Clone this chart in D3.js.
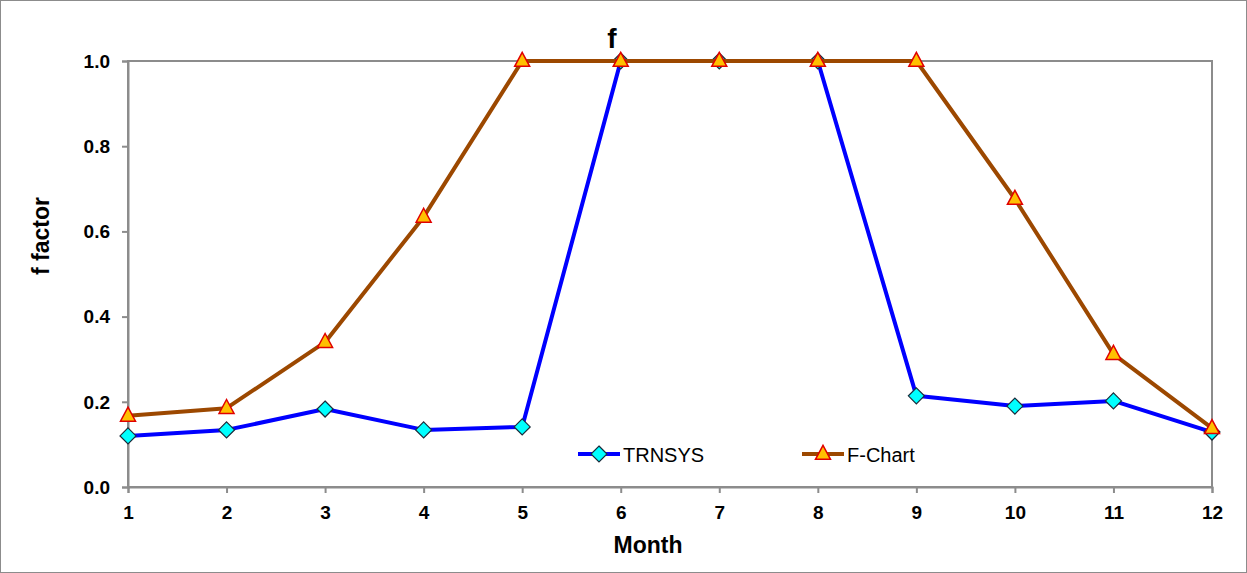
<!DOCTYPE html>
<html>
<head>
<meta charset="utf-8">
<script src="https://cdn.jsdelivr.net/npm/d3@7"></script>
<style>
  html, body { margin: 0; padding: 0; background: #fff; }
  svg { display: block; font-family: "Liberation Sans", Arial, sans-serif; }
</style>
</head>
<body>
<svg id="chart" width="1247" height="573"></svg>
<script>
// Monthly solar fraction f, TRNSYS simulation vs. F-Chart method
const months = [1, 2, 3, 4, 5, 6, 7, 8, 9, 10, 11, 12];
const trnsys = [0.120, 0.134, 0.183, 0.134, 0.141, 1.0, 1.0, 1.0, 0.214, 0.190, 0.202, 0.129];
const fchart = [0.167, 0.185, 0.340, 0.634, 1.0, 1.0, 1.0, 1.0, 1.0, 0.676, 0.312, 0.138];
const yTicks = [0.0, 0.2, 0.4, 0.6, 0.8, 1.0];

const svg = d3.select("#chart");
const W = 1247, H = 573;
const plot = { left: 128, right: 1212, top: 61, bottom: 487 };

const x = d3.scaleLinear().domain([1, 12]).range([plot.left, plot.right]);
const y = d3.scaleLinear().domain([0, 1]).range([plot.bottom, plot.top]);

// outer frame
svg.append("rect")
  .attr("x", 0.5).attr("y", 0.5).attr("width", W - 1).attr("height", H - 1)
  .attr("fill", "#fff").attr("stroke", "#8c8c8c").attr("stroke-width", 1);

// plot area frame
svg.append("rect")
  .attr("x", plot.left).attr("y", plot.top)
  .attr("width", plot.right - plot.left).attr("height", plot.bottom - plot.top)
  .attr("fill", "none").attr("stroke", "#8c8c8c").attr("stroke-width", 2);

// axes
const xAxis = d3.axisBottom(x).tickValues(months).tickSize(6).tickPadding(12).tickFormat(d3.format("d"));
const yAxis = d3.axisLeft(y).tickValues(yTicks).tickSize(6).tickPadding(12).tickFormat(d3.format(".1f"));

const gx = svg.append("g").attr("transform", `translate(0,${plot.bottom})`).call(xAxis);
const gy = svg.append("g").attr("transform", `translate(${plot.left},0)`).call(yAxis);

[gx, gy].forEach(g => {
  g.select(".domain").attr("stroke", "#8c8c8c").attr("stroke-width", 2);
  g.selectAll(".tick line").attr("stroke", "#8c8c8c").attr("stroke-width", 2);
  g.selectAll(".tick text")
    .attr("fill", "#000").attr("font-size", 19).attr("font-weight", "bold")
    .attr("font-family", "'Liberation Sans', Arial, sans-serif");
});
gy.selectAll(".tick text").attr("dy", "0.33em");
gx.selectAll(".tick text").attr("dy", "0.72em");

// titles
svg.append("text").attr("x", 612).attr("y", 48)
  .attr("text-anchor", "middle").attr("font-size", 28).attr("font-weight", "bold").text("f");
svg.append("text").attr("x", 648).attr("y", 553)
  .attr("text-anchor", "middle").attr("font-size", 23).attr("font-weight", "bold").text("Month");
svg.append("text")
  .attr("transform", "translate(49,236) rotate(-90)")
  .attr("text-anchor", "middle").attr("font-size", 23).attr("font-weight", "bold").text("f factor");

const line = d3.line().x((d, i) => x(months[i])).y(d => y(d));

const series = [
  { name: "TRNSYS", values: trnsys, color: "#0000ff", marker: "diamond" },
  { name: "F-Chart", values: fchart, color: "#9c4800", marker: "triangle" }
];

function drawMarker(g, type, cx, cy) {
  if (type === "diamond") {
    const r = 8;
    g.append("path")
      .attr("d", `M${cx},${cy - r}L${cx + r},${cy}L${cx},${cy + r}L${cx - r},${cy}Z`)
      .attr("fill", "#00ffff").attr("stroke", "#1a2a3a").attr("stroke-width", 1.2);
  } else {
    const w = 7.5, h = 14;
    g.append("path")
      .attr("d", `M${cx},${cy - h * 0.62}L${cx + w},${cy + h * 0.38}L${cx - w},${cy + h * 0.38}Z`)
      .attr("fill", "#ffc000").attr("stroke", "#e00000").attr("stroke-width", 1.5);
  }
}

series.forEach(s => {
  const g = svg.append("g");
  g.append("path").datum(s.values)
    .attr("d", line).attr("fill", "none")
    .attr("stroke", s.color).attr("stroke-width", 4).attr("stroke-linejoin", "round");
  s.values.forEach((v, i) => drawMarker(g, s.marker, x(months[i]), y(v)));
});

// legend
const legend = [
  { s: series[0], x0: 578 },
  { s: series[1], x0: 802 }
];
legend.forEach(({ s, x0 }) => {
  const g = svg.append("g");
  const ly = 454;
  g.append("line").attr("x1", x0).attr("x2", x0 + 42).attr("y1", ly).attr("y2", ly)
    .attr("stroke", s.color).attr("stroke-width", 4);
  drawMarker(g, s.marker, x0 + 21, ly);
  g.append("text").attr("x", x0 + 45).attr("y", ly + 8)
    .attr("font-size", 20).attr("fill", "#000").text(s.name);
});
</script>
</body>
</html>
